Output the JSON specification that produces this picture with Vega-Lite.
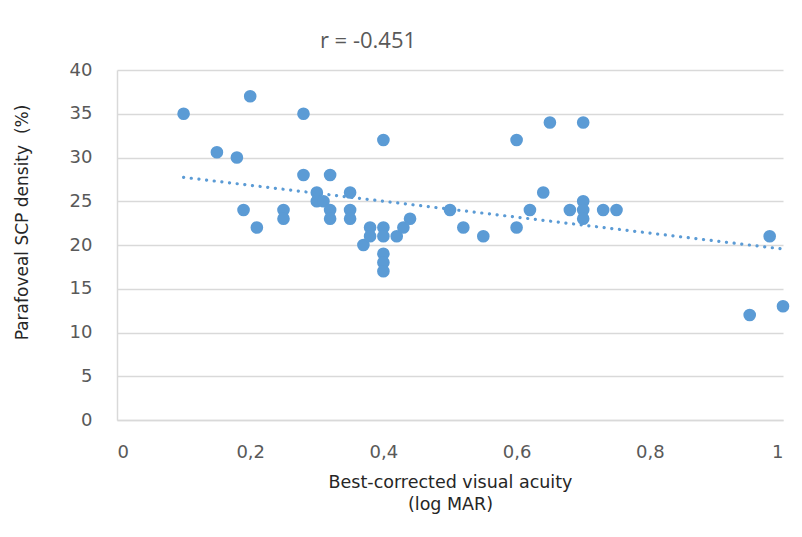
{
  "$schema": "https://vega.github.io/schema/vega-lite/v6.json",
  "width": 666,
  "height": 350,
  "autosize": {"type": "none"},
  "padding": {"left": 117, "top": 70, "right": 19, "bottom": 117},
  "background": "white",
  "title": {"text": "r = -0.451", "anchor": "middle", "dx": -82, "offset": 8, "font": "Open Sans", "fontSize": 22, "fontWeight": "normal", "color": "#595959"},
  "data": {"values": [
    {"bcva": 0.1, "density": 35}, {"bcva": 0.15, "density": 30.6}, {"bcva": 0.18, "density": 30},
    {"bcva": 0.2, "density": 37}, {"bcva": 0.19, "density": 24}, {"bcva": 0.21, "density": 22},
    {"bcva": 0.25, "density": 24}, {"bcva": 0.25, "density": 23}, {"bcva": 0.28, "density": 35},
    {"bcva": 0.28, "density": 28}, {"bcva": 0.32, "density": 28}, {"bcva": 0.3, "density": 26},
    {"bcva": 0.3, "density": 25}, {"bcva": 0.31, "density": 25}, {"bcva": 0.32, "density": 24},
    {"bcva": 0.32, "density": 23}, {"bcva": 0.35, "density": 26}, {"bcva": 0.35, "density": 24},
    {"bcva": 0.35, "density": 23}, {"bcva": 0.37, "density": 20}, {"bcva": 0.38, "density": 22},
    {"bcva": 0.38, "density": 21}, {"bcva": 0.4, "density": 32}, {"bcva": 0.4, "density": 22},
    {"bcva": 0.4, "density": 21}, {"bcva": 0.4, "density": 19}, {"bcva": 0.4, "density": 18},
    {"bcva": 0.4, "density": 17}, {"bcva": 0.42, "density": 21}, {"bcva": 0.43, "density": 22},
    {"bcva": 0.44, "density": 23}, {"bcva": 0.5, "density": 24}, {"bcva": 0.52, "density": 22},
    {"bcva": 0.55, "density": 21}, {"bcva": 0.6, "density": 32}, {"bcva": 0.6, "density": 22},
    {"bcva": 0.62, "density": 24}, {"bcva": 0.64, "density": 26}, {"bcva": 0.65, "density": 34},
    {"bcva": 0.68, "density": 24}, {"bcva": 0.7, "density": 34}, {"bcva": 0.7, "density": 25},
    {"bcva": 0.7, "density": 24}, {"bcva": 0.7, "density": 23}, {"bcva": 0.73, "density": 24},
    {"bcva": 0.75, "density": 24}, {"bcva": 0.95, "density": 12}, {"bcva": 0.98, "density": 21},
    {"bcva": 1.0, "density": 13}
  ]},
  "layer": [
    {
      "mark": {"type": "circle", "size": 160, "color": "#5b9bd5", "opacity": 1},
      "encoding": {
        "x": {"field": "bcva", "type": "quantitative", "scale": {"domain": [0, 1], "nice": false},
          "axis": {"values": [0, 0.2, 0.4, 0.6, 0.8, 1], "labelExpr": "replace(toString(datum.value), '.', ',')",
            "grid": false, "ticks": false, "domain": true, "domainColor": "#d9d9d9", "domainWidth": 1.5,
            "labelPadding": 23, "labelFont": "DejaVu Sans", "labelFontSize": 18, "labelColor": "#595959",
            "title": ["Best-corrected visual acuity", "(log MAR)"], "titlePadding": 12,
            "titleFont": "DejaVu Sans", "titleFontSize": 17.5, "titleFontWeight": "normal", "titleColor": "#262626", "titleLineHeight": 22}},
        "y": {"field": "density", "type": "quantitative", "scale": {"domain": [0, 40], "nice": false},
          "axis": {"values": [0, 5, 10, 15, 20, 25, 30, 35, 40],
            "grid": true, "gridColor": "#d9d9d9", "gridWidth": 1.5, "ticks": false, "domain": true, "domainColor": "#d9d9d9", "domainWidth": 1.5,
            "labelPadding": 25, "labelFont": "DejaVu Sans", "labelFontSize": 18, "labelColor": "#595959",
            "title": "Parafoveal SCP density \u00a0(%)", "titleX": -95, "titleY": 152, "titleBaseline": "middle",
            "titleFont": "DejaVu Sans", "titleFontSize": 17, "titleFontWeight": "normal", "titleColor": "#262626"}}
      }
    },
    {
      "transform": [{"regression": "density", "on": "bcva", "extent": [0.1, 1]}],
      "mark": {"type": "line", "color": "#5b9bd5", "strokeWidth": 3.2, "strokeDash": [0.1, 7.6], "strokeCap": "round"},
      "encoding": {
        "x": {"field": "bcva", "type": "quantitative"},
        "y": {"field": "density", "type": "quantitative"}
      }
    }
  ],
  "config": {"view": {"stroke": null}}
}
